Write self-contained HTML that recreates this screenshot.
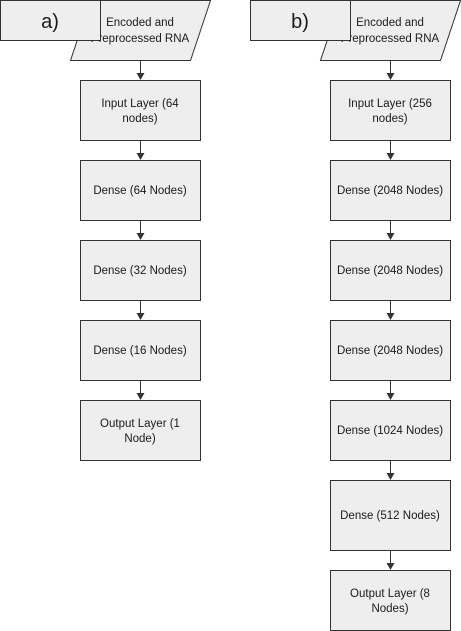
<!DOCTYPE html>
<html><head><meta charset="utf-8"><style>
html,body{margin:0;padding:0;background:#fff;width:461px;height:631px;overflow:hidden}
text{font-family:"Liberation Sans",Arial,sans-serif;font-size:11.5px;fill:#1a1a1a;text-anchor:middle}
.b{fill:#eeeeee;stroke:#333;stroke-width:1}
.l{stroke:#333;stroke-width:1;fill:none}
.a{fill:#333}
.lab{font-size:20px}
</style></head><body>
<svg width="461" height="631" viewBox="0 0 461 631" xmlns="http://www.w3.org/2000/svg">
<!-- a -->
<polygon class="b" points="70.5,60.5 190.5,60.5 210.5,0.5 90.5,0.5"/>
<text x="140" y="26">Encoded and</text>
<text x="140" y="42">Preprocessed RNA</text>
<rect class="b" x="0.5" y="0.5" width="100" height="40" fill="#eee"/>
<text class="lab" x="50" y="28">a)</text>
<g>
<rect class="b" x="80.5" y="80.5" width="120" height="60"/>
<text x="140" y="107">Input Layer (64</text><text x="140" y="122">nodes)</text>
<rect class="b" x="80.5" y="160.5" width="120" height="60"/>
<text x="140" y="194">Dense (64 Nodes)</text>
<rect class="b" x="80.5" y="240.5" width="120" height="60"/>
<text x="140" y="274">Dense (32 Nodes)</text>
<rect class="b" x="80.5" y="320.5" width="120" height="60"/>
<text x="140" y="354">Dense (16 Nodes)</text>
<rect class="b" x="80.5" y="400.5" width="120" height="60"/>
<text x="140" y="427">Output Layer (1</text><text x="140" y="442">Node)</text>
</g>
<g>
<line class="l" x1="140.5" y1="61" x2="140.5" y2="74"/><polygon class="a" points="136.5,73 144.5,73 140.5,80"/>
<line class="l" x1="140.5" y1="141" x2="140.5" y2="154"/><polygon class="a" points="136.5,153 144.5,153 140.5,160"/>
<line class="l" x1="140.5" y1="221" x2="140.5" y2="234"/><polygon class="a" points="136.5,233 144.5,233 140.5,240"/>
<line class="l" x1="140.5" y1="301" x2="140.5" y2="314"/><polygon class="a" points="136.5,313 144.5,313 140.5,320"/>
<line class="l" x1="140.5" y1="381" x2="140.5" y2="394"/><polygon class="a" points="136.5,393 144.5,393 140.5,400"/>
</g>
<!-- b -->
<polygon class="b" points="320.5,60.5 440.5,60.5 460.5,0.5 340.5,0.5"/>
<text x="390" y="26">Encoded and</text>
<text x="390" y="42">Preprocessed RNA</text>
<rect class="b" x="250.5" y="0.5" width="100" height="40"/>
<text class="lab" x="300" y="28">b)</text>
<rect class="b" x="330.5" y="80.5" width="120" height="60"/>
<text x="390" y="107">Input Layer (256</text><text x="390" y="122">nodes)</text>
<rect class="b" x="330.5" y="160.5" width="120" height="60"/>
<text x="390" y="194">Dense (2048 Nodes)</text>
<rect class="b" x="330.5" y="240.5" width="120" height="60"/>
<text x="390" y="274">Dense (2048 Nodes)</text>
<rect class="b" x="330.5" y="320.5" width="120" height="60"/>
<text x="390" y="354">Dense (2048 Nodes)</text>
<rect class="b" x="330.5" y="400.5" width="120" height="60"/>
<text x="390" y="434">Dense (1024 Nodes)</text>
<rect class="b" x="330.5" y="480.5" width="120" height="70"/>
<text x="390" y="519">Dense (512 Nodes)</text>
<rect class="b" x="330.5" y="570.5" width="120" height="60"/>
<text x="390" y="597">Output Layer (8</text><text x="390" y="612">Nodes)</text>
<g>
<line class="l" x1="390.5" y1="61" x2="390.5" y2="74"/><polygon class="a" points="386.5,73 394.5,73 390.5,80"/>
<line class="l" x1="390.5" y1="141" x2="390.5" y2="154"/><polygon class="a" points="386.5,153 394.5,153 390.5,160"/>
<line class="l" x1="390.5" y1="221" x2="390.5" y2="234"/><polygon class="a" points="386.5,233 394.5,233 390.5,240"/>
<line class="l" x1="390.5" y1="301" x2="390.5" y2="314"/><polygon class="a" points="386.5,313 394.5,313 390.5,320"/>
<line class="l" x1="390.5" y1="381" x2="390.5" y2="394"/><polygon class="a" points="386.5,393 394.5,393 390.5,400"/>
<line class="l" x1="390.5" y1="461" x2="390.5" y2="474"/><polygon class="a" points="386.5,473 394.5,473 390.5,480"/>
<line class="l" x1="390.5" y1="551" x2="390.5" y2="564"/><polygon class="a" points="386.5,563 394.5,563 390.5,570"/>
</g>
</svg>
</body></html>
